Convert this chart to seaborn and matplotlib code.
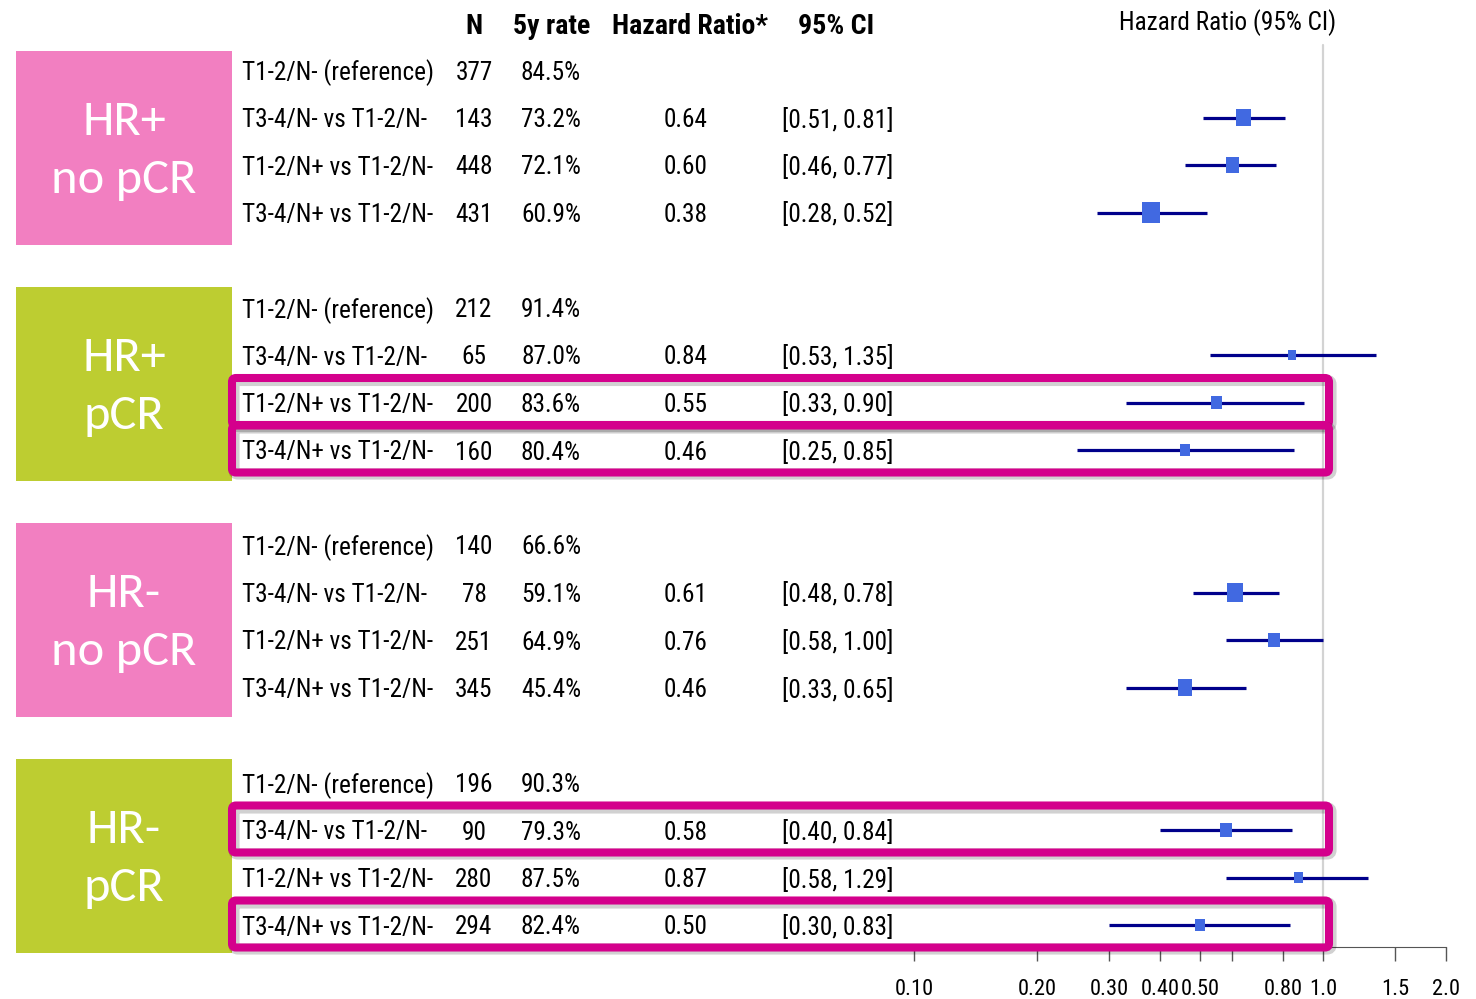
import numpy as np
import pandas as pd
import seaborn as sns
import matplotlib.pyplot as plt
from matplotlib import font_manager
from matplotlib.patches import FancyBboxPatch, Rectangle
from matplotlib.ticker import FixedLocator, FixedFormatter, NullLocator

# ---- data ----
groups = ["HR+\nno pCR", "HR+\npCR", "HR-\nno pCR", "HR-\npCR"]
group_colors = ["#f27fc1", "#bdcd31", "#f27fc1", "#bdcd31"]
comparisons = ["T1-2/N- (reference)", "T3-4/N- vs T1-2/N-",
               "T1-2/N+ vs T1-2/N-", "T3-4/N+ vs T1-2/N-"]
n_pat = [377, 143, 448, 431,
         212, 65, 200, 160,
         140, 78, 251, 345,
         196, 90, 280, 294]
rate5y = [84.5, 73.2, 72.1, 60.9,
          91.4, 87.0, 83.6, 80.4,
          66.6, 59.1, 64.9, 45.4,
          90.3, 79.3, 87.5, 82.4]
hr = [np.nan, 0.64, 0.60, 0.38,
      np.nan, 0.84, 0.55, 0.46,
      np.nan, 0.61, 0.76, 0.46,
      np.nan, 0.58, 0.87, 0.50]
ci_lo = [np.nan, 0.51, 0.46, 0.28,
         np.nan, 0.53, 0.33, 0.25,
         np.nan, 0.48, 0.58, 0.33,
         np.nan, 0.40, 0.58, 0.30]
ci_hi = [np.nan, 0.81, 0.77, 0.52,
         np.nan, 1.35, 0.90, 0.85,
         np.nan, 0.78, 1.00, 0.65,
         np.nan, 0.84, 1.29, 0.83]
# relative box weight of each estimate (as drawn)
weights = [np.nan, 17, 15, 20,
           np.nan, 9, 12, 11,
           np.nan, 18, 14, 17,
           np.nan, 14, 10, 12]
highlight = [(1, 2), (1, 3), (3, 1), (3, 3)]   # (group, comparison)
xticks = [0.1, 0.2, 0.3, 0.4, 0.5, 0.6, 0.8, 1.0, 1.5, 2.0]
xtick_labels = ["0.10", "0.20", "0.30", "0.40", "0.50", "", "0.80", "1.0", "1.5", "2.0"]

rows = []
k = 0
for g, grp in enumerate(groups):
    for i, comp in enumerate(comparisons):
        rows.append(dict(group=g, comp=comp, row=5 * g + i, n=n_pat[k], rate=rate5y[k],
                         hr=hr[k], lo=ci_lo[k], hi=ci_hi[k], w=weights[k]))
        k += 1
df = pd.DataFrame(rows)
est = df.dropna(subset=["hr"])


def pick(cands):
    names = {f.name for f in font_manager.fontManager.ttflist}
    for c in cands:
        if c in names:
            return c
    return "DejaVu Sans"


sns.set_style("white")
narrow = pick(["Liberation Sans Narrow", "Arial Narrow", "Roboto Condensed",
               "Archivo Narrow", "PT Sans Narrow", "Liberation Sans"])
calibri = pick(["Carlito", "Lato", "Open Sans"])
plt.rcParams["font.family"] = [narrow, "DejaVu Sans"]
plt.rcParams["text.color"] = "black"

W, H = 1476, 999
Y0, DY = 70, 47.5                 # pixel of first row, row step
AX_L, AX_R, AX_B = 914, 1446, 947

fig = plt.figure(figsize=(W / 100, H / 100), dpi=100, facecolor="white")
renderer = fig.canvas.get_renderer()


def fit_size(text, width_px, weight="normal", family=None):
    # font size (pt) that gives the text the width it has in the picture
    t = fig.text(0, 0, text, fontsize=20, fontweight=weight, family=family or [narrow])
    w = t.get_window_extent(renderer).width
    t.remove()
    return 20 * width_px / w


fs = fit_size("T1-2/N- (reference)", 192)
fs_head = fit_size("5y rate", 77, weight="bold")
fs_group = fit_size("no pCR", 145, family=[calibri])
fs_tick = fit_size("0.10", 39)

# forest panel
ax = fig.add_axes([AX_L / W, 1 - AX_B / H, (AX_R - AX_L) / W, AX_B / H])
ax.patch.set_alpha(0)
ax.axvline(1.0, ymin=0, ymax=(AX_B - 45) / AX_B, color="#d3d3d3", lw=1.6, zorder=0)
ax.hlines(est["row"], est["lo"], est["hi"], color="#00008b", lw=2.3, zorder=2)
box = [(-0.42, -0.5), (0.42, -0.5), (0.42, 0.5), (-0.42, 0.5)]
sns.scatterplot(data=est, x="hr", y="row", marker=box, s=(est["w"] * 0.75) ** 2,
                color="#4169e1", linewidth=0, ax=ax, zorder=3, legend=False)
ax.set_xscale("log")
ax.set_xlim(0.1, 2.0)
ax.set_ylim((AX_B - Y0) / DY, -Y0 / DY)
ax.set_xlabel("")
ax.set_ylabel("")
ax.set_yticks([])
for s in ["top", "left", "right"]:
    ax.spines[s].set_visible(False)
ax.spines["bottom"].set_color("#555555")
ax.xaxis.set_major_locator(FixedLocator(xticks))
ax.xaxis.set_major_formatter(FixedFormatter(xtick_labels))
ax.xaxis.set_minor_locator(NullLocator())
ax.tick_params(axis="x", bottom=True, direction="out", length=10, width=1.0,
               color="#555555", pad=13, labelsize=fs_tick, labelcolor="black")

# overlay for table, group labels and highlight frames (pixel coordinates)
ov = fig.add_axes([0, 0, 1, 1])
ov.set_xlim(0, W)
ov.set_ylim(H, 0)
ov.axis("off")
ov.patch.set_alpha(0)
ov.set_zorder(3)

for g, grp in enumerate(groups):
    top = 51 + 236 * g
    ov.add_patch(Rectangle((16, top), 216, 194, color=group_colors[g], lw=0))
    ov.text(124, top + 100, grp, ha="center", va="center", color="white",
            fontsize=fs_group, family=[calibri, "DejaVu Sans"], linespacing=1.45)

for _, r in df.iterrows():
    y = Y0 + DY * r["row"]
    ov.text(242, y, r["comp"], ha="left", va="center_baseline", fontsize=fs)
    ov.text(474, y, f"{r['n']}", ha="center", va="center_baseline", fontsize=fs)
    ov.text(551, y, f"{r['rate']:.1f}%", ha="center", va="center_baseline", fontsize=fs)
    if not np.isnan(r["hr"]):
        ov.text(686, y, f"{r['hr']:.2f}", ha="center", va="center_baseline", fontsize=fs)
        ov.text(782, y, f"[{r['lo']:.2f}, {r['hi']:.2f}]", ha="left",
                va="center_baseline", fontsize=fs)

hy = 23
ov.text(474, hy, "N", ha="center", va="center_baseline", fontsize=fs_head, fontweight="bold")
ov.text(552, hy, "5y rate", ha="center", va="center_baseline", fontsize=fs_head, fontweight="bold")
ov.text(612, hy, "Hazard Ratio*", ha="left", va="center_baseline", fontsize=fs_head, fontweight="bold")
ov.text(798, hy, "95% CI", ha="left", va="center_baseline", fontsize=fs_head, fontweight="bold")
ov.text(1228, 20, "Hazard Ratio (95% CI)", ha="center", va="center_baseline", fontsize=fs)

for g, i in highlight:
    yc = Y0 + DY * (5 * g + i) - 1
    shadow = FancyBboxPatch((234, yc - 21), 1097, 46, boxstyle="round,pad=0,rounding_size=4",
                            fill=False, ec="black", alpha=0.18, lw=8)
    ov.add_patch(shadow)
    frame = FancyBboxPatch((232, yc - 23.5), 1097, 47, boxstyle="round,pad=0,rounding_size=4",
                           fill=False, ec="#d4008c", lw=5.8)
    ov.add_patch(frame)

plt.savefig("out.png", dpi=100)
